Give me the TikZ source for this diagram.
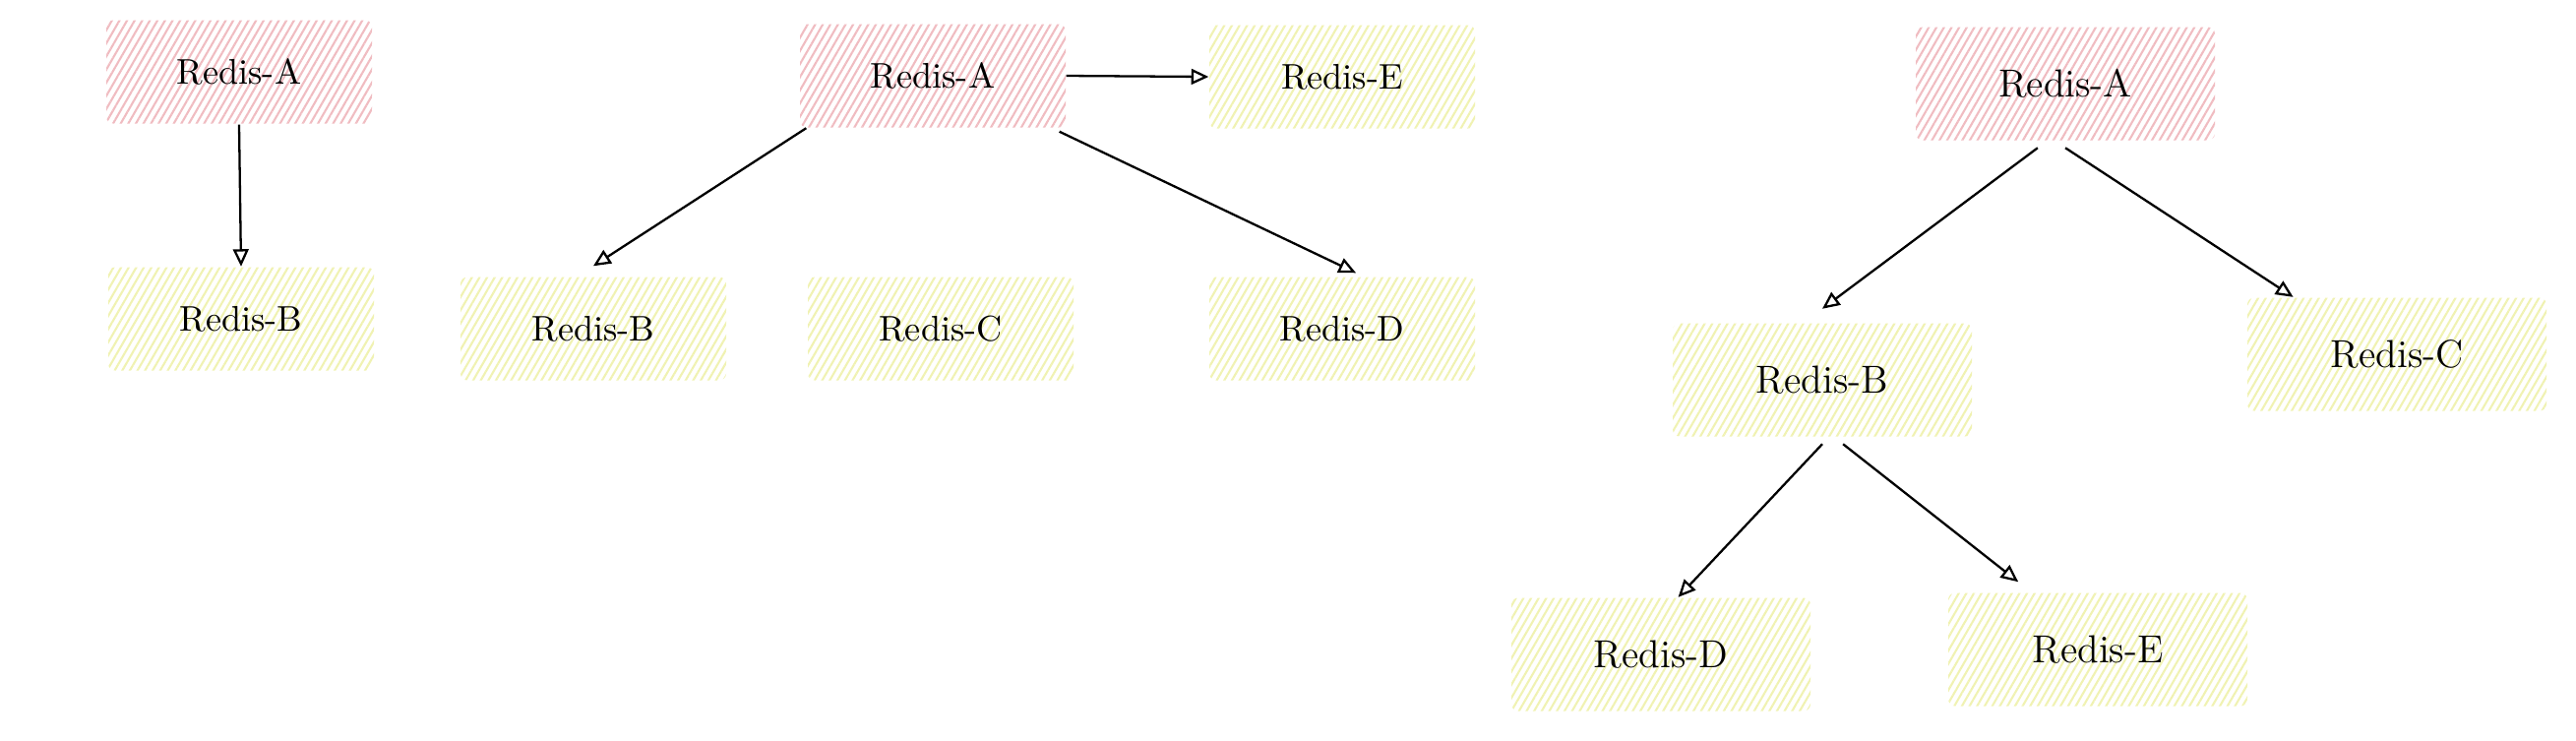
\documentclass[tikz,border=0pt]{standalone}
\usepackage{tikz}
\usepackage{xcolor}
\usetikzlibrary{patterns.meta,arrows.meta}

\definecolor{hatchred}{HTML}{F0BCC1}
\definecolor{hatchyellow}{HTML}{F0F2B2}

\begin{document}
\begin{tikzpicture}[x=1cm, y=-1cm, >={Triangle[open,length=5pt,width=4.5pt]},
    redis/.style={minimum width=2.7cm, minimum height=1.05cm, rounded corners=2pt,
        inner sep=0pt, font=\fontsize{10.3}{12}\selectfont},
    master/.style={redis, pattern={Lines[angle=60,distance=1.9pt,line width=0.6pt]},
        pattern color=hatchred},
    slave/.style={redis, pattern={Lines[angle=60,distance=1.9pt,line width=0.6pt]},
        pattern color=hatchyellow},
    big/.style={minimum width=3.04cm, minimum height=1.15cm,
        font=\fontsize{11.3}{13}\selectfont},
    link/.style={line width=0.65pt, ->}]
    \useasboundingbox (0,0) rectangle (26.18,7.52);

    % one master, one replica
    \node[master] (a1) at (2.43,0.73) {Redis-A};
    \node[slave] (b1) at (2.45,3.24) {Redis-B};
    \draw[link] (a1.south) -- (b1.north);

    % one master, many replicas
    \node[master] (a2) at (9.48,0.77) {Redis-A};
    \node[slave] (e2) at (13.64,0.78) {Redis-E};
    \node[slave] (b2) at (6.03,3.34) {Redis-B};
    \node[slave] (c2) at (9.56,3.34) {Redis-C};
    \node[slave] (d2) at (13.64,3.34) {Redis-D};
    \draw[link] (a2.east) -- (e2.west);
    \draw[link] ([xshift=2pt]a2.south west) -- ([yshift=3pt]b2.north);
    \draw[link] ([xshift=-2pt,yshift=-1pt]a2.south east) -- ([xshift=4pt,yshift=1pt]d2.north);

    % cascade
    \node[master, big] (a3) at (20.99,0.85) {Redis-A};
    \node[slave, big] (b3) at (18.52,3.86) {Redis-B};
    \node[slave, big] (c3) at (24.36,3.60) {Redis-C};
    \node[slave, big] (d3) at (16.88,6.65) {Redis-D};
    \node[slave, big] (e3) at (21.32,6.60) {Redis-E};
    \draw[link] ([xshift=-8pt,yshift=-2pt]a3.south) -- ([yshift=4pt]b3.north);
    \draw[link] ([yshift=-2pt]a3.south) -- ([xshift=-30pt]c3.north);
    \draw[link] ([yshift=-2pt]b3.south) -- ([xshift=5pt]d3.north);
    \draw[link] ([xshift=6pt,yshift=-2pt]b3.south) -- ([xshift=-23pt,yshift=3pt]e3.north);
\end{tikzpicture}
\end{document}
